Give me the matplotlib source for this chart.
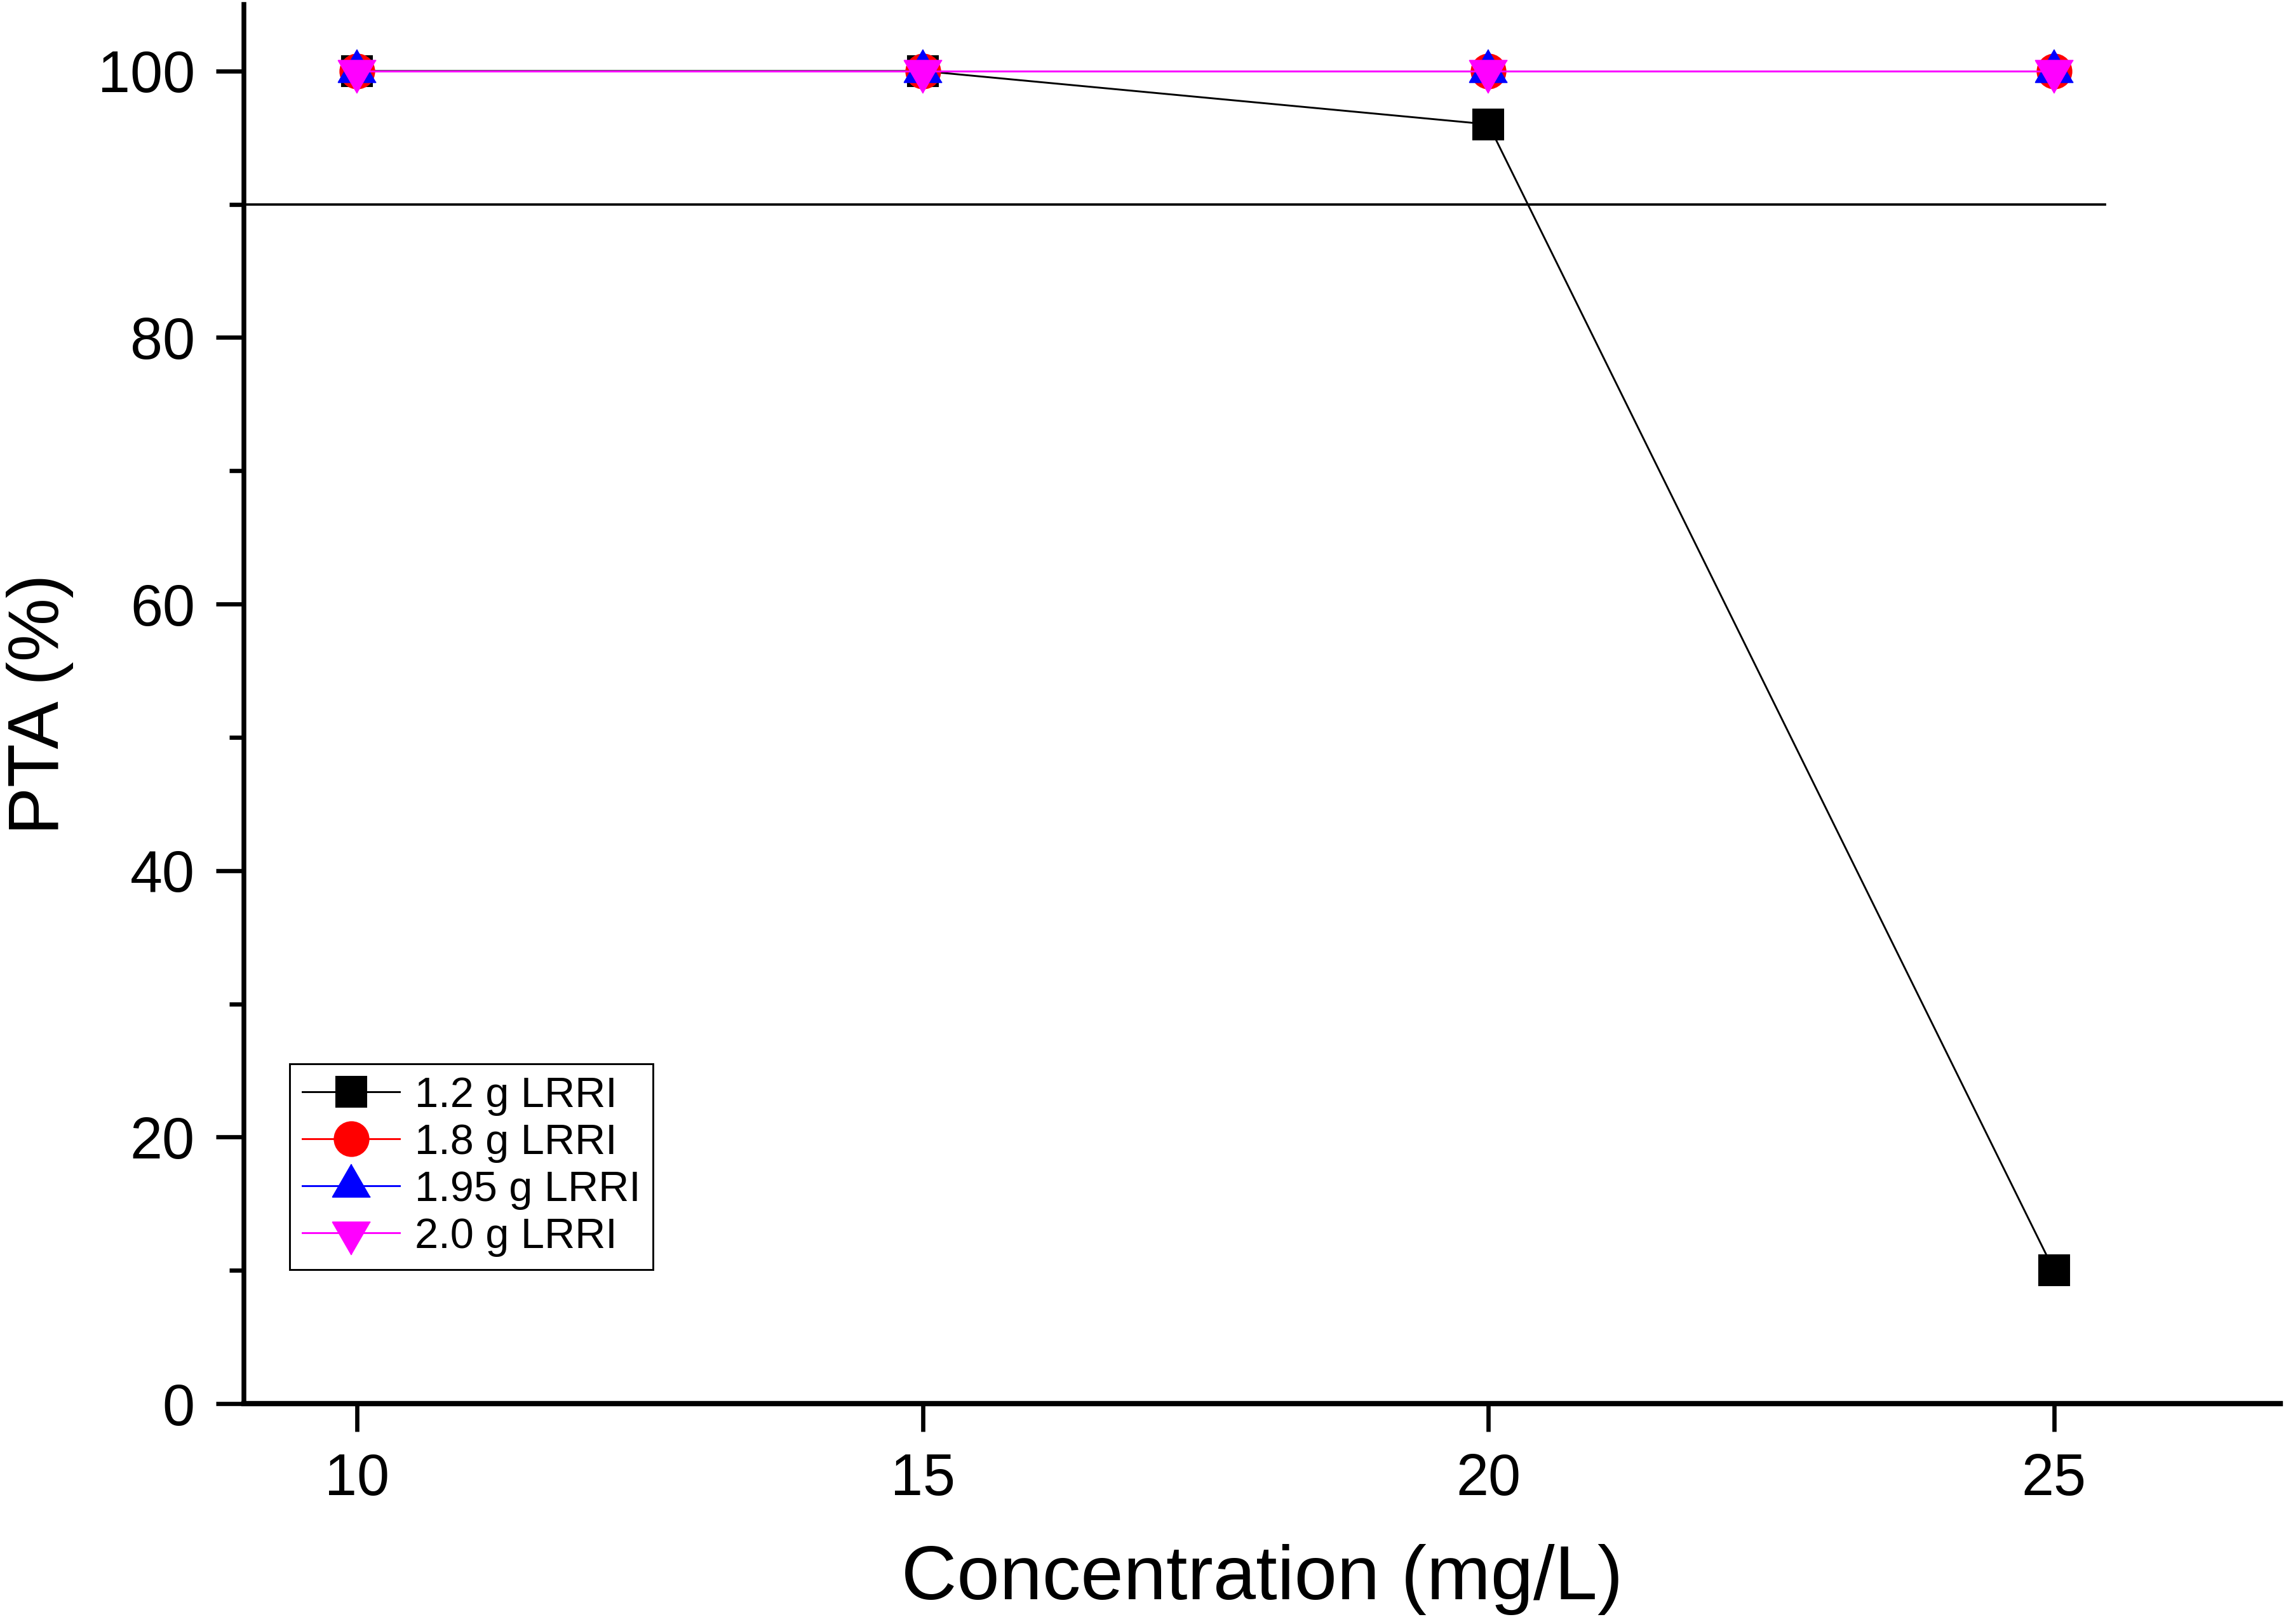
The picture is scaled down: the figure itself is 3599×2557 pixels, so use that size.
import matplotlib
matplotlib.use("Agg")
import matplotlib.pyplot as plt
from matplotlib.ticker import MultipleLocator

plt.rcParams["font.family"] = ["Liberation Sans", "DejaVu Sans"]

# data
conc = [10, 15, 20, 25]
pta_12 = [100, 100, 96, 10]
pta_18 = [100, 100, 100, 100]
pta_195 = [100, 100, 100, 100]
pta_20 = [100, 100, 100, 100]
limit = 90
limit_span = [9, 25.45]


def tri(up=True):
    # equilateral triangle centred on its centroid (Origin style)
    h = 3 ** 0.5 / 2
    s = 1 if up else -1
    return [(0, s * 2 * h / 3), (-0.5, -s * h / 3), (0.5, -s * h / 3)]


series = [
    ("1.2 g LRRI", pta_12, "#000000", "s", 11.5),
    ("1.8 g LRRI", pta_18, "#ff0000", "o", 13),
    ("1.95 g LRRI", pta_195, "#0000ff", tri(True), 16.5),
    ("2.0 g LRRI", pta_20, "#ff00ff", tri(False), 16.5),
]

fig = plt.figure(figsize=(3599 / 300, 2557 / 300), dpi=300)
ax = fig.add_axes([0.1067, 0.1357, 0.8908, 0.8616])

ax.plot(limit_span, [limit, limit], color="black", lw=0.9, zorder=1)
for label, vals, col, mk, ms in series:
    ax.plot(conc, vals, color=col, lw=0.7, marker=mk, ms=ms,
            mfc=col, mec=col, mew=0.5, label=label, zorder=3)

ax.set_xlim(9, 27)
ax.set_ylim(0, 105)
ax.set_xticks(conc)
ax.yaxis.set_major_locator(MultipleLocator(20))
ax.yaxis.set_minor_locator(MultipleLocator(10))

for side in ("top", "right"):
    ax.spines[side].set_visible(False)
ax.spines["left"].set_linewidth(1.8)
ax.spines["bottom"].set_linewidth(2.0)

ax.tick_params(axis="both", which="major", direction="out", length=10.5,
               width=1.6, labelsize=22, pad=8)
ax.tick_params(axis="y", which="minor", direction="out", length=5.5, width=1.6)

ax.set_xlabel("Concentration (mg/L)", fontsize=29, labelpad=14)
ax.set_ylabel("PTA (%)", fontsize=27, labelpad=9)

leg = ax.legend(loc="lower left", bbox_to_anchor=(0.0225, 0.096), fontsize=16,
                frameon=True, fancybox=False, edgecolor="black", framealpha=1,
                handlelength=2.3, handletextpad=0.35, labelspacing=0.18,
                borderpad=0.3, borderaxespad=0)
leg.get_frame().set_linewidth(0.7)

fig.savefig("out.png", dpi=300, facecolor="white")
